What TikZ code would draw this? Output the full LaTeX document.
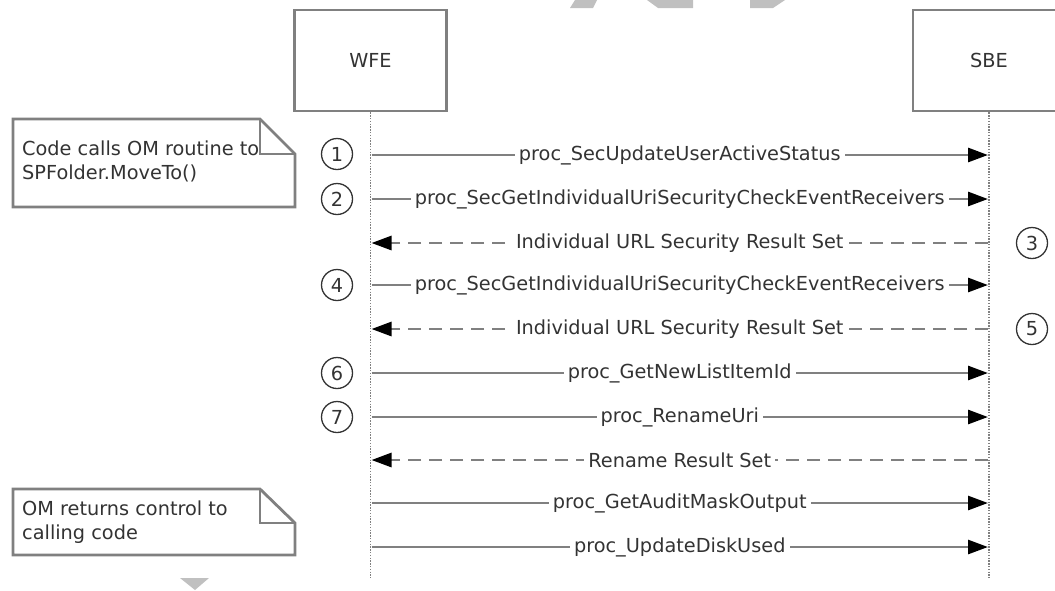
\documentclass[tikz,border=0pt]{standalone}
\usepackage{fontspec}
\setmainfont{DejaVu Sans}
\usetikzlibrary{arrows.meta}
\definecolor{linegray}{HTML}{808080}
\definecolor{textgray}{HTML}{333333}
\definecolor{wmgray}{HTML}{C0C0C0}
\begin{document}
\begin{tikzpicture}[x=1pt,y=-1pt,
  font=\fontsize{19.3}{24}\selectfont,
  actor/.style={draw=linegray, line width=2.8pt, minimum width=152pt, minimum height=101pt, text=textgray, inner sep=0pt},
  lifeline/.style={draw=linegray, line width=1.8pt, dash pattern=on 1.4pt off 1.4pt},
  tipA/.style={-{Triangle[length=20pt,width=14pt,color=black]}},
  call/.style={draw=linegray, line width=2.8pt, tipA},
  ret/.style={draw=linegray, line width=2.8pt, dash pattern=on 13pt off 8pt, tipA},
  msg/.style={fill=white, text=textgray, inner sep=4pt},
  num/.style={circle, draw=textgray, line width=1.3pt, minimum size=31pt, inner sep=0pt, text=textgray},
  notebox/.style={draw=linegray, line width=2.8pt, fill=white},
  notetext/.style={text=textgray, align=left, anchor=north west, inner sep=0pt}
]
\useasboundingbox (0,0) rectangle (1055,590);
\clip (0,0) rectangle (1055,590);
% watermark fragments
\fill[wmgray] (570,8) -- (575,0) -- (597,0) -- (593,8) -- cycle;
\fill[wmgray] (647,0) -- (693,0) -- (693,8) -- (658,8) -- cycle;
\fill[wmgray] (750,0) -- (785,0) -- (773,8) -- (750,8) -- cycle;
\fill[wmgray] (180,578) -- (209,578) -- (195,590) -- cycle;

% actors
\node[actor] (wfe) at (370.5,60.5) {WFE};
\node[actor] (sbe) at (989,60.5) {SBE};
\coordinate (wfeEnd) at (370.5,578);
\coordinate (sbeEnd) at (989,578);
\draw[lifeline] (wfe.south) -- (wfeEnd);
\draw[lifeline] (sbe.south) -- (sbeEnd);

% message end points
\foreach \i/\y in {1/155,2/199,3/243,4/285,5/329,6/373,7/417,8/460,9/503,10/547}{
  \coordinate (w\i) at (371.5,\y);
  \coordinate (s\i) at (988,\y);
}

% messages
\draw[call] (w1) -- node[msg] (m1) {proc\_SecUpdateUserActiveStatus} (s1);
\draw[call] (w2) -- node[msg] (m2) {proc\_SecGetIndividualUriSecurityCheckEventReceivers} (s2);
\draw[ret]  (s3) -- node[msg] (m3) {Individual URL Security Result Set} (w3);
\draw[call] (w4) -- node[msg] (m4) {proc\_SecGetIndividualUriSecurityCheckEventReceivers} (s4);
\draw[ret]  (s5) -- node[msg] (m5) {Individual URL Security Result Set} (w5);
\draw[call] (w6) -- node[msg] (m6) {proc\_GetNewListItemId} (s6);
\draw[call] (w7) -- node[msg] (m7) {proc\_RenameUri} (s7);
\draw[ret]  (s8) -- node[msg] (m8) {Rename Result Set} (w8);
\draw[call] (w9) -- node[msg] (m9) {proc\_GetAuditMaskOutput} (s9);
\draw[call] (w10) -- node[msg] (m10) {proc\_UpdateDiskUsed} (s10);

% step numbers
\node[num] (n1) at (337,154) {1};
\node[num] (n2) at (337,199) {2};
\node[num] (n3) at (1032,243) {3};
\node[num] (n4) at (337,285) {4};
\node[num] (n5) at (1032,329) {5};
\node[num] (n6) at (337,373) {6};
\node[num] (n7) at (337,417) {7};

% notes
\draw[notebox] (13,119) -- (260,119) -- (295,154) -- (295,207) -- (13,207) -- cycle;
\draw[draw=linegray, line width=2.8pt] (260,119) -- (260,154) -- (295,154);
\node[notetext] (note1) at (22,140.5) {Code calls OM routine to\\SPFolder.MoveTo()};

\draw[notebox] (13,489) -- (260,489) -- (295,523) -- (295,555) -- (13,555) -- cycle;
\draw[draw=linegray, line width=2.8pt] (260,489) -- (260,523) -- (295,523);
\node[notetext] (note2) at (22,500.5) {OM returns control to\\calling code};
\end{tikzpicture}
\end{document}
